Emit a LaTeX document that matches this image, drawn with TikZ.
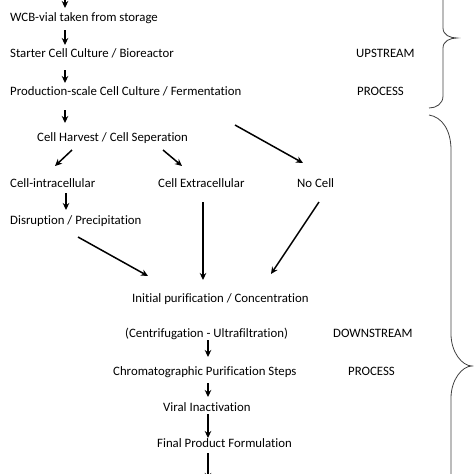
\documentclass[tikz,border=0pt]{standalone}
\usepackage{fontspec}
\setmainfont{Carlito}[Ligatures=NoCommon]
\usetikzlibrary{arrows.meta}
\begin{document}
\begin{tikzpicture}[x=1pt,y=-1pt,
  lbl/.style={anchor=base west,inner sep=0pt,font=\fontsize{12.8}{14}\selectfont},
  arr/.style={line width=1.5pt,-{Stealth[length=7pt,width=6.5pt]}},
  brace/.style={line width=0.8pt,draw=black!75}]
\useasboundingbox (0,0) rectangle (474,474);
\coordinate (top) at (65,-2);
\node[lbl] (wcb) at (10,21) {WCB-vial taken from storage};
\node[lbl] (starter) at (10,57) {Starter Cell Culture / Bioreactor};
\node[lbl] (up) at (356,57) {UPSTREAM};
\node[lbl] (prod) at (10,95) {Production-scale Cell Culture / Fermentation};
\node[lbl] (proc1) at (357,95) {PROCESS};
\node[lbl] (harv) at (37,141) {Cell Harvest / Cell Seperation};
\node[lbl] (intra) at (10,187) {Cell-intracellular};
\node[lbl] (extra) at (158,187) {Cell Extracellular};
\node[lbl] (nocell) at (297,187) {No Cell};
\node[lbl] (disr) at (10,224) {Disruption / Precipitation};
\node[lbl] (init) at (132,302) {Initial purification / Concentration};
\node[lbl] (centr) at (125,337) {(Centrifugation - Ultrafiltration)};
\node[lbl] (down) at (333,337) {DOWNSTREAM};
\node[lbl] (chrom) at (113,375) {Chromatographic Purification Steps};
\node[lbl] (proc2) at (348,375) {PROCESS};
\node[lbl] (viral) at (163,411) {Viral Inactivation};
\node[lbl] (final) at (157,447) {Final Product Formulation};
\coordinate (bot) at (208,480);
% vertical arrows
\draw[arr] (top) -- (65,8);
\draw[arr] (65,30) -- (65,45);
\draw[arr] (65,70) -- (65,83);
\draw[arr] (65,110) -- (65,123);
% branch arrows
\draw[arr] (72,150) -- (55,166);
\draw[arr] (163,150) -- (182,166);
\draw[arr] (235,125) -- (303,163);
\draw[arr] (66,193) -- (66,210);
\draw[arr] (78,237) -- (148,276);
\draw[arr] (203,202) -- (203,280);
\draw[arr] (319,202) -- (271,274);
% downstream chain
\draw[arr] (208,340) -- (208,357);
\draw[arr] (208,383) -- (208,397);
\draw[arr] (208,414) -- (208,438);
\draw[arr] (208,453) -- (bot);
% upper brace
\draw[brace] (443,-2) -- (443,28)
  .. controls (443,35) and (450,38) .. (457,38)
  .. controls (450,38) and (443,41) .. (443,48)
  -- (443,96) .. controls (443,104) and (436,108) .. (429,108);
% lower brace
\draw[brace] (429,115) .. controls (442,117) and (451,130) .. (451,150)
  -- (451,334) .. controls (451,352) and (462,366) .. (472,366)
  .. controls (462,366) and (451,380) .. (451,398)
  -- (451,476);
\end{tikzpicture}
\end{document}
